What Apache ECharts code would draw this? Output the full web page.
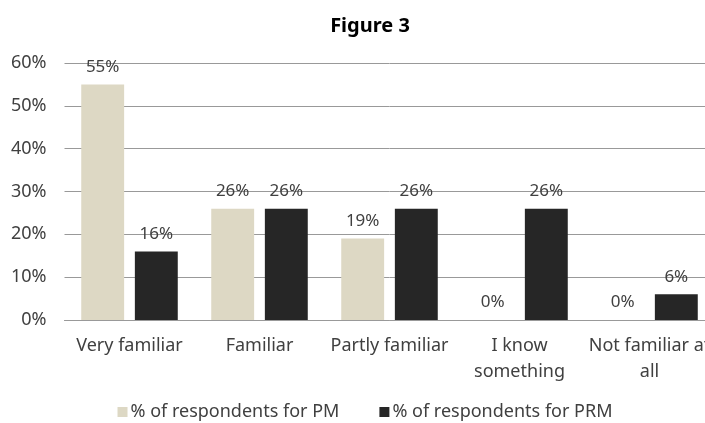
<!DOCTYPE html>
<html>
<head>
<meta charset="utf-8">
<script src="https://cdn.jsdelivr.net/npm/echarts@6/dist/echarts.min.js"></script>
<style>html,body{margin:0;padding:0;background:#fff;overflow:hidden;}#c{width:730px;height:423px;}</style>
</head>
<body>
<div id="c"></div>
<script>
const categories = ["Very familiar", "Familiar", "Partly familiar", "I know\nsomething", "Not familiar at\nall"];
const pmValues = [55, 26, 19, 0, 0];
const prmValues = [16, 26, 26, 26, 6];
const seriesNames = ["% of respondents for PM", "% of respondents for PRM"];
const yTicks = [0, 10, 20, 30, 40, 50, 60];

const FONT = "Noto Sans";
const chart = echarts.init(document.getElementById('c'), null, {renderer: 'canvas'});
const labelCfg = {
  show: true, position: 'top', distance: 9,
  formatter: p => p.value + '%',
  fontFamily: FONT, fontSize: 17, color: '#404040'
};
chart.setOption({
  animation: false,
  textStyle: {fontFamily: FONT},
  title: {
    text: 'Figure 3', left: 365, top: 11, textAlign: 'center',
    textStyle: {fontFamily: FONT, fontSize: 20, fontWeight: 'bold', color: '#000'}
  },
  legend: {
    data: seriesNames, bottom: -3, left: 'center', itemWidth: 10, itemHeight: 10, itemGap: 40,
    icon: 'rect',
    textStyle: {fontFamily: FONT, fontSize: 18, color: '#404040', padding: [0, 0, 0, -2]}
  },
  grid: {left: 64.5, width: 650, top: 63, bottom: 103, containLabel: false},
  xAxis: {
    type: 'category', data: categories,
    axisLine: {show: true, lineStyle: {color: '#999999', width: 1}},
    axisTick: {show: false},
    axisLabel: {fontFamily: FONT, fontSize: 18, color: '#404040', margin: 13, lineHeight: 26, interval: 0}
  },
  yAxis: {
    type: 'value', min: yTicks[0], max: yTicks[yTicks.length - 1], interval: 10,
    axisLine: {show: false}, axisTick: {show: false},
    splitLine: {lineStyle: {color: '#999999', width: 1}},
    axisLabel: {formatter: v => v + '%', fontFamily: FONT, fontSize: 18, color: '#404040', margin: 18}
  },
  series: [
    {name: seriesNames[0], type: 'bar', data: pmValues, barWidth: '33%', barGap: '25%',
     itemStyle: {color: '#ddd8c4'}, label: labelCfg},
    {name: seriesNames[1], type: 'bar', data: prmValues, barWidth: '33%', barGap: '25%',
     itemStyle: {color: '#262626'}, label: labelCfg}
  ]
});
</script>
</body>
</html>
